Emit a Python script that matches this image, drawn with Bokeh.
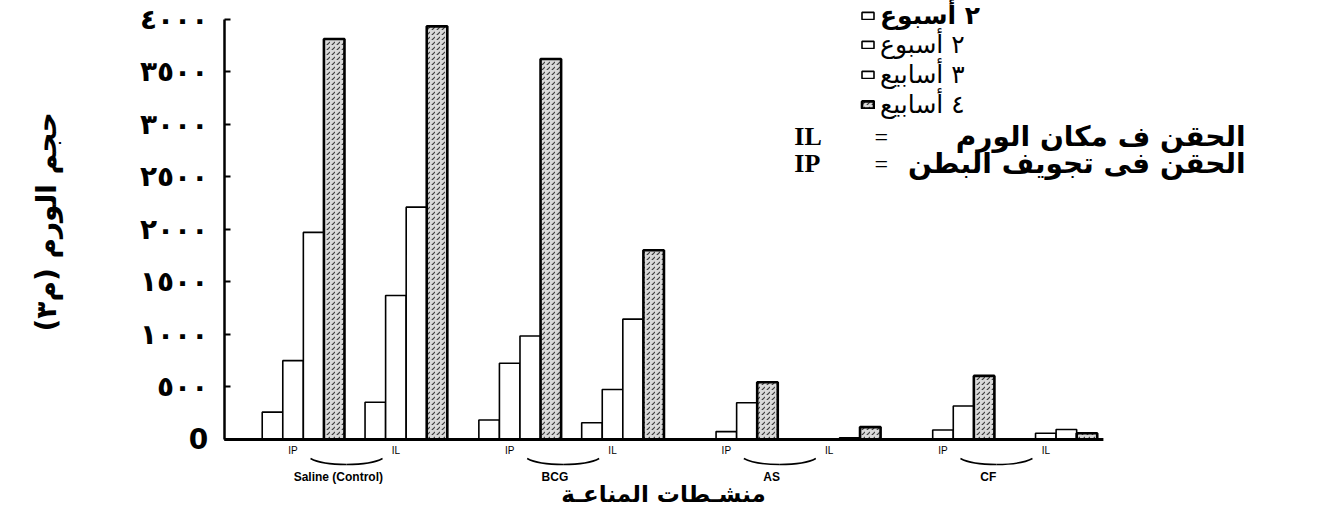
from bokeh.plotting import figure
from bokeh.models import Range1d, ColumnDataSource, FixedTicker, Legend, LegendItem, Title
from bokeh.core.properties import value
from bokeh.embed import file_html
from bokeh.resources import INLINE

# ---------------- data ----------------
categories = ["Saline (Control)", "BCG", "AS", "CF"]
routes = ["IP", "IL"]
series_labels = ["٢ أسبوع", "٢ أسبوع", "٣ أسابيع", "٤ أسابيع"]
# order: Saline IP, Saline IL, BCG IP, BCG IL, AS IP, AS IL, CF IP, CF IL
week1 = [260, 355, 185, 160, 0, 0, 0, 0]
week2 = [750, 1370, 725, 476, 75, 0, 90, 60]
week3 = [1970, 2210, 985, 1145, 350, 15, 318, 95]
week4 = [3810, 3930, 3620, 1800, 545, 118, 605, 60]
y_ticks = [0, 500, 1000, 1500, 2000, 2500, 3000, 3500, 4000]
y_tick_labels = ["0", "٥٠٠", "١٠٠٠", "١٥٠٠", "٢٠٠٠", "٢٥٠٠", "٣٠٠٠", "٣٥٠٠", "٤٠٠٠"]
y_title = "حجم الورم (م٣)\u200f"
x_title = "منشـطات المناعـة"
note_codes = ["IL", "IP"]
note_texts = ["الحقن ف مكان الورم", "الحقن فى تجويف البطن"]

# ---------------- layout helpers (pixel geometry of the image) ----------------
W, H = 1300, 508
F_LEFT = 87          # frame left edge (px)
TITLE_STANDOFF = 54
PX = 20.6            # px per bar
X0_IMG = 222         # image x of y-axis
Y0_IMG = 439         # image y of value 0
YPX = 420.5 / 4000   # px per unit


def xd(img_x):
    return (img_x - X0_IMG) / PX


def yd(img_y):
    return (Y0_IMG - img_y) / YPX


FIRST = xd(260)
CAT_STEP = 217 / PX
ROUTE_STEP = 5

p = figure(width=W, height=H, output_backend="svg", toolbar_location=None,
           x_range=Range1d(xd(F_LEFT), xd(W)), y_range=Range1d(yd(H), yd(0)),
           x_axis_location=None, title=None,
           min_border_left=F_LEFT, min_border_right=0, min_border_top=0, min_border_bottom=0)
p.xgrid.visible = False
p.ygrid.visible = False
p.outline_line_color = None
p.background_fill_color = "white"

# group starts
starts = []
for ci in range(len(categories)):
    for ri in range(len(routes)):
        starts.append(FIRST + ci * CAT_STEP + ri * ROUTE_STEP)

series = [week1, week2, week3, week4]
renderers = []
for s, vals in enumerate(series):
    src = ColumnDataSource(dict(x=[st + s + 0.5 for st in starts], top=vals))
    if s < 3:
        r = p.vbar(x="x", top="top", bottom=0, width=1, source=src,
                   fill_color="white", line_color="black", line_width=1.6)
    else:
        r = p.vbar(x="x", top="top", bottom=0, width=1, source=src,
                   fill_color="#d9d9d9", line_color="black", line_width=2.6,
                   hatch_pattern="right_diagonal_dash", hatch_color="#222222",
                   hatch_scale=5, hatch_weight=1.2, hatch_alpha=0.85)
    renderers.append(r)

# baseline
p.segment(x0=[0], y0=[0], x1=[starts[-1] + 4.3], y1=[0], line_color="black", line_width=3)

# y axis, drawn at x = 0 of the data
ax = p.yaxis[0]
ax.fixed_location = 0
ax.ticker = FixedTicker(ticks=y_ticks)
ax.major_label_overrides = {t: l for t, l in zip(y_ticks, y_tick_labels)}
ax.bounds = (0, 4000)
ax.axis_line_width = 2.5
ax.axis_line_color = "black"
ax.major_tick_in = 6
ax.major_tick_out = 0
ax.major_tick_line_width = 2
ax.minor_tick_in = 0
ax.minor_tick_out = 0
ax.major_label_text_font = "DejaVu Sans"
ax.major_label_text_font_size = "28px"
ax.major_label_text_font_style = "bold"
ax.major_label_text_color = "black"
ax.major_label_standoff = 16

# y title
ytitle = Title(text=y_title, align="left", offset=H - 331, standoff=TITLE_STANDOFF,
               text_font="DejaVu Sans", text_font_size="28px", text_font_style="bold",
               text_color="black")
p.add_layout(ytitle, "left")

# route labels (IP / IL) under each group
route_src = ColumnDataSource(dict(
    x=[st + 2 - 0.5 for st in starts],
    y=[yd(450)] * len(starts),
    t=[routes[i % 2] for i in range(len(starts))]))
p.text(x="x", y="y", text="t", source=route_src, text_font=value("Liberation Sans"),
       text_font_size="10px", text_align="center", text_baseline="middle", text_color="black")

# category labels and braces
cat_centers = [FIRST + ci * CAT_STEP + 4.5 for ci in range(len(categories))]
cat_src = ColumnDataSource(dict(x=[c - 0.8 for c in cat_centers],
                                y=[yd(476)] * len(categories), t=categories))
p.text(x="x", y="y", text="t", source=cat_src, text_font=value("Liberation Sans"),
       text_font_size="12px", text_font_style="bold", text_align="center",
       text_baseline="middle", text_color="black")

bc = [c - 0.4 for c in cat_centers]
hw = 1.75
yt, yb = yd(458), yd(464)
p.quadratic(x0=[c - hw for c in bc], y0=[yt] * 4, x1=[c for c in bc], y1=[yb] * 4,
            cx=[c - hw * 0.7 for c in bc], cy=[yb] * 4, line_color="black", line_width=1.5)
p.quadratic(x0=[c + hw for c in bc], y0=[yt] * 4, x1=[c for c in bc], y1=[yb] * 4,
            cx=[c + hw * 0.7 for c in bc], cy=[yb] * 4, line_color="black", line_width=1.5)

# x title
p.text(x=[xd(662)], y=[yd(493)], text=[x_title], text_font=value("DejaVu Sans"),
       text_font_size="23px", text_font_style="bold", text_align="center",
       text_baseline="middle", text_color="black")

# notes IL / IP
ny = [yd(136), yd(163)]
p.text(x=[xd(793)] * 2, y=ny, text=note_codes, text_font=value("Liberation Serif"),
       text_font_size="26px", text_font_style="bold", text_align="left",
       text_baseline="middle", text_color="black")
p.text(x=[xd(880)] * 2, y=ny, text=["=", "="], text_font=value("Liberation Serif"),
       text_font_size="24px", text_align="center", text_baseline="middle", text_color="black")
p.text(x=[xd(1245)] * 2, y=ny, text=note_texts, text_font=value("DejaVu Sans"),
       text_font_size="28px", text_font_style="bold", text_align="right",
       text_baseline="middle", text_color="black")

# legend: first entry bold, the rest plain
common = dict(padding=0, margin=0, spacing=1, label_height=16, glyph_height=9,
              glyph_width=15, label_standoff=5, border_line_color=None,
              background_fill_alpha=0, label_text_font="DejaVu Sans", label_text_color="black",
              label_text_font_size="25px")
legend_a = Legend(items=[LegendItem(label=series_labels[0], renderers=[renderers[0]])],
                  location=(858 - F_LEFT, H - 30), label_text_font_style="bold", **common)
legend_b = Legend(items=[LegendItem(label=lab, renderers=[r])
                         for lab, r in zip(series_labels[1:], renderers[1:])],
                  location=(858 - F_LEFT, H - 119), **common)
p.add_layout(legend_a)
p.add_layout(legend_b)

open("out.html", "w").write(file_html(p, INLINE))
